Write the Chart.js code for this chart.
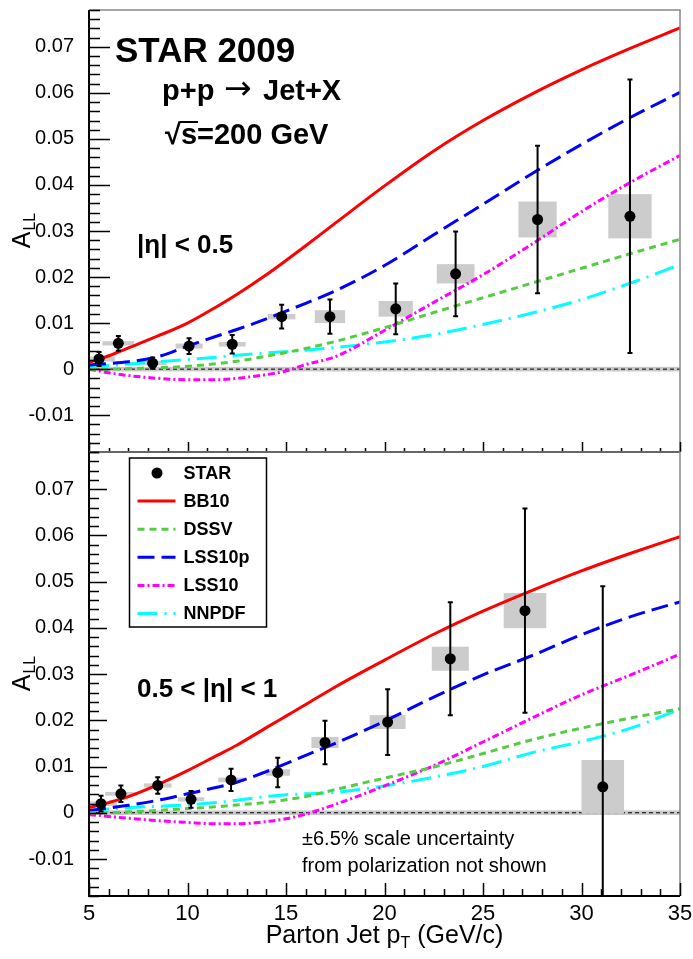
<!DOCTYPE html>
<html>
<head>
<meta charset="utf-8">
<script src="https://cdn.jsdelivr.net/npm/chart.js@4.4.1/dist/chart.umd.min.js"></script>
<style>
  html, body { margin: 0; padding: 0; background: #fff; }
  #wrap { position: relative; width: 693px; height: 959px; overflow: hidden; }
  canvas { position: absolute; left: 0; top: 0; }
  #top-chart { top: -9px; }
</style>
</head>
<body>
<div id="wrap">
  <canvas id="top-chart" width="693" height="959"></canvas>
  <canvas id="bottom-chart" width="693" height="959"></canvas>
</div>
<script>
// theory curves, sampled at these parton jet pT values
const curvePt = [5, 6, 7, 8.5, 10, 11.5, 12.5, 14, 15, 16, 17.5, 20, 22.5, 25, 27.5, 30, 32.5, 35];

// |eta| < 0.5
const bb10Top   = [0.0014, 0.0029, 0.0046, 0.0072, 0.0100, 0.0136, 0.0162, 0.0205, 0.0236, 0.0268, 0.0317, 0.0398, 0.0474, 0.0540, 0.0598, 0.0650, 0.0697, 0.0741];
const dssvTop   = [0.0000, 0.0000, 0.0001, 0.0003, 0.0006, 0.0012, 0.0017, 0.0028, 0.0036, 0.0045, 0.0060, 0.0090, 0.0123, 0.0155, 0.0187, 0.0219, 0.0251, 0.0282];
const lss10pTop = [0.0009, 0.0012, 0.0016, 0.0027, 0.0050, 0.0072, 0.0086, 0.0109, 0.0126, 0.0143, 0.0170, 0.0225, 0.0292, 0.0358, 0.0425, 0.0488, 0.0547, 0.0601];
const lss10Top  = [0.0000, -0.0008, -0.0014, -0.0020, -0.0023, -0.0023, -0.0020, -0.0012, -0.0004, 0.0010, 0.0027, 0.0084, 0.0145, 0.0205, 0.0272, 0.0342, 0.0406, 0.0464];
const nnpdfTop  = [0.0006, 0.0008, 0.0011, 0.0016, 0.0021, 0.0026, 0.0030, 0.0035, 0.0038, 0.0041, 0.0047, 0.0059, 0.0075, 0.0097, 0.0122, 0.0151, 0.0187, 0.0227];

// 0.5 < |eta| < 1
const bb10Bot   = [0.0011, 0.0022, 0.0035, 0.0061, 0.0091, 0.0124, 0.0146, 0.0184, 0.0209, 0.0234, 0.0272, 0.0330, 0.0386, 0.0436, 0.0481, 0.0523, 0.0561, 0.0597];
const dssvBot   = [0.0000, 0.0000, 0.0002, 0.0005, 0.0009, 0.0013, 0.0017, 0.0022, 0.0028, 0.0035, 0.0050, 0.0075, 0.0099, 0.0128, 0.0158, 0.0183, 0.0205, 0.0225];
const lss10pBot = [0.0005, 0.0010, 0.0016, 0.0027, 0.0041, 0.0055, 0.0066, 0.0089, 0.0106, 0.0124, 0.0150, 0.0198, 0.0250, 0.0298, 0.0340, 0.0385, 0.0424, 0.0456];
const lss10Bot  = [-0.0004, -0.0008, -0.0012, -0.0017, -0.0021, -0.0024, -0.0024, -0.0019, -0.0013, -0.0003, 0.0018, 0.0058, 0.0102, 0.0153, 0.0205, 0.0255, 0.0298, 0.0343];
const nnpdfBot  = [0.0005, 0.0008, 0.0011, 0.0014, 0.0017, 0.0022, 0.0027, 0.0035, 0.0039, 0.0041, 0.0044, 0.0058, 0.0077, 0.0100, 0.0130, 0.0154, 0.0183, 0.0224];

// STAR 2009 points
const starPtTop   = [5.51, 6.49, 8.23, 10.08, 12.27, 14.78, 17.23, 20.57, 23.61, 27.77, 32.46];
const starAllTop  = [0.0022, 0.0056, 0.0013, 0.0050, 0.0054, 0.0114, 0.0114, 0.0131, 0.0207, 0.0325, 0.0332];
const starStatTop = [0.0015, 0.0016, 0.0012, 0.0017, 0.0020, 0.0026, 0.0037, 0.0055, 0.0092, 0.0160, 0.0297];
const starSysTop  = [0.00055, 0.00047, 0.00046, 0.00054, 0.0005, 0.0006, 0.0014, 0.0017, 0.0021, 0.0039, 0.0048];
const boxHalfTop  = [0.80, 0.81, 0.70, 0.69, 0.68, 0.70, 0.77, 0.87, 0.96, 0.97, 1.10];

const starPtBot   = [5.61, 6.62, 8.49, 10.18, 12.21, 14.58, 16.98, 20.16, 23.34, 27.13, 31.08];
const starAllBot  = [0.00195, 0.0041, 0.0059, 0.0029, 0.0071, 0.0087, 0.0152, 0.0196, 0.0333, 0.0437, 0.0056];
const starStatBot = [0.0017, 0.0018, 0.0018, 0.0018, 0.0024, 0.0032, 0.0047, 0.0071, 0.0122, 0.0221, 0.0434];
const starSysBot  = [0.0005, 0.0004, 0.00045, 0.00045, 0.0005, 0.0007, 0.0012, 0.0015, 0.0026, 0.0038, 0.0058];
const boxHalfBot  = [0.80, 0.80, 0.70, 0.67, 0.65, 0.62, 0.69, 0.91, 0.94, 1.08, 1.08];

// relative luminosity band around zero
const lumiBand = 0.0005;

const yTickValues = [-0.01, 0, 0.01, 0.02, 0.03, 0.04, 0.05, 0.06, 0.07];
const yTickLabels = ['-0.01', '0', '0.01', '0.02', '0.03', '0.04', '0.05', '0.06', '0.07'];
const xTickValues = [5, 10, 15, 20, 25, 30, 35];
const xTickLabels = ['5', '10', '15', '20', '25', '30', '35'];

const FONT = '"Liberation Sans", Arial, Helvetica, sans-serif';

function curve(label, ys, color, dash) {
    return {
        type: 'line',
        label: label,
        data: curvePt.map((x, i) => ({ x: x, y: ys[i] })),
        borderColor: color,
        borderWidth: 3,
        borderDash: dash,
        pointRadius: 0,
        cubicInterpolationMode: 'monotone',
        fill: false
    };
}

// draws the ROOT-like decorations: band, sys boxes, error bars, frame, ticks, texts, legend
const panelDecor = {
    id: 'panelDecor',
    beforeDatasetsDraw(chart, args, o) {
        const { ctx, chartArea: a, scales: { x, y } } = chart;
        ctx.save();
        ctx.beginPath();
        ctx.rect(a.left, a.top, a.right - a.left, a.bottom - a.top);
        ctx.clip();
        ctx.fillStyle = '#c8c8c8';
        const b0 = y.getPixelForValue(lumiBand), b1 = y.getPixelForValue(-lumiBand);
        ctx.fillRect(a.left, b0, a.right - a.left, b1 - b0);
        ctx.strokeStyle = '#000';
        ctx.lineWidth = 1;
        ctx.setLineDash([4, 3]);
        const yz = y.getPixelForValue(0);
        ctx.beginPath();
        ctx.moveTo(a.left, yz);
        ctx.lineTo(a.right, yz);
        ctx.stroke();
        ctx.setLineDash([]);
        ctx.fillStyle = '#cccccc';
        o.pt.forEach((p, i) => {
            const x0 = x.getPixelForValue(p - o.boxHalf[i]);
            const x1 = x.getPixelForValue(p + o.boxHalf[i]);
            const y0 = y.getPixelForValue(o.val[i] + o.sys[i]);
            const y1 = y.getPixelForValue(o.val[i] - o.sys[i]);
            ctx.fillRect(x0, y0, x1 - x0, y1 - y0);
        });
        ctx.restore();
    },
    beforeDatasetDraw(chart, args, o) {
        if (args.index !== 0) return;
        const { ctx, chartArea: a, scales: { x, y } } = chart;
        ctx.save();
        ctx.beginPath();
        ctx.rect(a.left, a.top, a.right - a.left, a.bottom - a.top);
        ctx.clip();
        ctx.strokeStyle = '#000';
        ctx.lineWidth = 2;
        o.pt.forEach((p, i) => {
            const px = x.getPixelForValue(p);
            const hi = y.getPixelForValue(o.val[i] + o.stat[i]);
            const lo = y.getPixelForValue(o.val[i] - o.stat[i]);
            ctx.beginPath();
            ctx.moveTo(px, hi); ctx.lineTo(px, lo);
            ctx.moveTo(px - 2.5, hi); ctx.lineTo(px + 2.5, hi);
            ctx.moveTo(px - 2.5, lo); ctx.lineTo(px + 2.5, lo);
            ctx.stroke();
        });
        ctx.restore();
    },
    afterDraw(chart, args, o) {
        const { ctx, chartArea: a, scales: { x, y } } = chart;
        ctx.save();
        // frame
        ctx.strokeStyle = '#888';
        ctx.lineWidth = 1.5;
        ctx.beginPath();
        ctx.moveTo(a.left, a.top); ctx.lineTo(a.right, a.top); ctx.lineTo(a.right, a.bottom);
        ctx.stroke();
        ctx.strokeStyle = '#000';
        ctx.lineWidth = 2;
        ctx.beginPath();
        ctx.moveTo(a.left, a.top); ctx.lineTo(a.left, a.bottom); ctx.lineTo(a.right, a.bottom);
        ctx.stroke();
        // inward ticks
        ctx.lineWidth = 1.5;
        ctx.beginPath();
        for (let k = Math.ceil(y.min / 0.002); k * 0.002 <= y.max + 1e-9; k++) {
            const py = Math.round(y.getPixelForValue(k * 0.002)) + 0.5;
            const len = k % 5 === 0 ? o.tick.yMajor : o.tick.yMinor;
            ctx.moveTo(a.left, py); ctx.lineTo(a.left + len, py);
        }
        for (let v = x.min; v <= x.max; v++) {
            const px = Math.round(x.getPixelForValue(v)) + 0.5;
            const len = v % 5 === 0 ? o.tick.xMajor : o.tick.xMinor;
            ctx.moveTo(px, a.bottom); ctx.lineTo(px, a.bottom - len);
        }
        ctx.stroke();

        // y axis title A_LL
        ctx.save();
        ctx.translate(o.yTitleX, (a.top + a.bottom) / 2);
        ctx.rotate(-Math.PI / 2);
        ctx.fillStyle = '#000';
        ctx.textBaseline = 'alphabetic';
        ctx.font = '25px ' + FONT;
        const wA = ctx.measureText('A').width;
        ctx.font = '16px ' + FONT;
        const wL = ctx.measureText('LL').width;
        const sx = -(wA + wL) / 2;
        ctx.font = '25px ' + FONT;
        ctx.fillText('A', sx, 0);
        ctx.font = '16px ' + FONT;
        ctx.fillText('LL', sx + wA + 1, 5);
        ctx.restore();

        // free texts
        ctx.fillStyle = '#000';
        ctx.strokeStyle = '#000';
        ctx.textBaseline = 'alphabetic';
        ctx.textAlign = 'left';
        (o.texts || []).forEach(t => {
            ctx.font = t.font + ' ' + (t.family || FONT);
            ctx.fillText(t.text, t.x, t.y + o.shift);
            if (t.sqrtBar) {
                const w0 = ctx.measureText('√').width;
                const w1 = ctx.measureText('√s').width;
                ctx.lineWidth = 2;
                ctx.beginPath();
                ctx.moveTo(t.x + w0 - 1, t.y + o.shift - 22);
                ctx.lineTo(t.x + w1 + 1, t.y + o.shift - 22);
                ctx.stroke();
            }
        });

        // x axis title with subscript
        if (o.xTitle) {
            ctx.font = '25px ' + FONT;
            const p1 = 'Parton Jet p', p3 = ' (GeV/c)';
            const w1 = ctx.measureText(p1).width, w3 = ctx.measureText(p3).width;
            ctx.font = '16px ' + FONT;
            const w2 = ctx.measureText('T').width;
            const tx = (a.left + a.right) / 2 - (w1 + w2 + w3) / 2;
            ctx.font = '25px ' + FONT;
            ctx.fillText(p1, tx, o.xTitleY);
            ctx.font = '16px ' + FONT;
            ctx.fillText('T', tx + w1, o.xTitleY + 5);
            ctx.font = '25px ' + FONT;
            ctx.fillText(p3, tx + w1 + w2, o.xTitleY);
        }

        // legend
        if (o.legend) {
            const L = o.legend;
            ctx.fillStyle = '#fff';
            ctx.fillRect(L.x, L.y, L.w, L.h);
            ctx.strokeStyle = '#000';
            ctx.lineWidth = 1.5;
            ctx.strokeRect(L.x, L.y, L.w, L.h);
            ctx.font = 'bold 18px ' + FONT;
            ctx.textBaseline = 'middle';
            chart.data.datasets.forEach((ds, i) => {
                const ry = L.row0 + i * L.step;
                if (ds.type === 'scatter') {
                    ctx.fillStyle = '#000';
                    ctx.beginPath();
                    ctx.arc(L.x + 27.5, ry, 5.5, 0, Math.PI * 2);
                    ctx.fill();
                } else {
                    ctx.strokeStyle = ds.borderColor;
                    ctx.lineWidth = 3;
                    ctx.setLineDash(ds.borderDash || []);
                    ctx.beginPath();
                    ctx.moveTo(L.x + 8, ry); ctx.lineTo(L.x + 46, ry);
                    ctx.stroke();
                    ctx.setLineDash([]);
                }
                ctx.fillStyle = '#000';
                ctx.fillText(ds.label, L.x + 54, ry + 1);
            });
        }
        ctx.restore();
    }
};

function makePanel(id, series, pts, decor, bottom) {
    const datasets = [
        {
            type: 'scatter',
            label: 'STAR',
            data: pts.pt.map((x, i) => ({ x: x, y: pts.val[i] })),
            pointRadius: 5.5,
            pointHoverRadius: 5.5,
            backgroundColor: '#000',
            borderColor: '#000',
            borderWidth: 0
        },
        curve('BB10', series[0], '#ff0000', []),
        curve('DSSV', series[1], '#55cc44', [7, 5]),
        curve('LSS10p', series[2], '#0000ff', [17, 7]),
        curve('LSS10', series[3], '#ff00ff', [7, 3, 2, 3]),
        curve('NNPDF', series[4], '#00ffff', [20, 7, 2, 7])
    ];
    return new Chart(document.getElementById(id), {
        type: 'scatter',
        data: { datasets: datasets },
        options: {
            responsive: false,
            animation: false,
            events: [],
            layout: {
                autoPadding: false,
                // the top canvas sits 9px higher on the page, y labels reserve ~18px above the area
                padding: bottom ? { top: 452, bottom: 0, left: 0, right: 13 } : { top: 0, bottom: 498, left: 0, right: 13 }
            },
            plugins: {
                legend: { display: false },
                tooltip: { enabled: false },
                panelDecor: Object.assign({}, pts, decor)
            },
            scales: {
                x: {
                    type: 'linear',
                    min: 5,
                    max: 35,
                    display: bottom,
                    grid: { display: false },
                    border: { display: false },
                    afterBuildTicks: s => { s.ticks = xTickValues.map(v => ({ value: v })); },
                    afterFit: s => { if (bottom) s.height = 63; },
                    ticks: {
                        autoSkip: false,
                        maxRotation: 0,
                        padding: -3,
                        color: '#000',
                        font: { family: FONT, size: 22 },
                        callback: (v, i) => xTickLabels[i]
                    }
                },
                y: {
                    type: 'linear',
                    min: -0.018,
                    max: 0.078,
                    grid: { display: false },
                    border: { display: false },
                    afterBuildTicks: s => { s.ticks = yTickValues.map(v => ({ value: v })); },
                    afterFit: s => { s.width = 89; },
                    ticks: {
                        autoSkip: false,
                        padding: 7,
                        color: '#000',
                        font: { family: FONT, size: 20 },
                        callback: (v, i) => yTickLabels[i]
                    }
                }
            }
        },
        plugins: [panelDecor]
    });
}

makePanel('top-chart',
    [bb10Top, dssvTop, lss10pTop, lss10Top, nnpdfTop],
    { pt: starPtTop, val: starAllTop, stat: starStatTop, sys: starSysTop, boxHalf: boxHalfTop },
    {
        tick: { yMajor: 21, yMinor: 11, xMajor: 10, xMinor: 4 },
        yTitleX: 30,
        shift: 9,
        texts: [
            { text: 'STAR 2009', x: 115, y: 62, font: 'bold 35px' },
            { text: 'p+p', x: 162, y: 100, font: 'bold 29px' },
            { text: '→', x: 224, y: 99, font: '33px', family: '"DejaVu Sans", sans-serif' },
            { text: 'Jet+X', x: 263, y: 100, font: 'bold 29px' },
            { text: '√s=200 GeV', x: 165, y: 144, font: 'bold 29px', sqrtBar: true },
            { text: '|η| < 0.5', x: 137, y: 253, font: 'bold 26px' }
        ]
    }, false);

makePanel('bottom-chart',
    [bb10Bot, dssvBot, lss10pBot, lss10Bot, nnpdfBot],
    { pt: starPtBot, val: starAllBot, stat: starStatBot, sys: starSysBot, boxHalf: boxHalfBot },
    {
        tick: { yMajor: 18, yMinor: 10, xMajor: 13, xMinor: 7 },
        yTitleX: 30,
        shift: 0,
        xTitle: true,
        xTitleY: 943,
        legend: { x: 129.5, y: 458, w: 137, h: 169, row0: 473, step: 28.1 },
        texts: [
            { text: '0.5 < |η| < 1', x: 137, y: 697, font: 'bold 26px' },
            { text: '±6.5% scale uncertainty', x: 302, y: 845, font: '20px' },
            { text: 'from polarization not shown', x: 302, y: 872, font: '20px' }
        ]
    }, true);
</script>
</body>
</html>
